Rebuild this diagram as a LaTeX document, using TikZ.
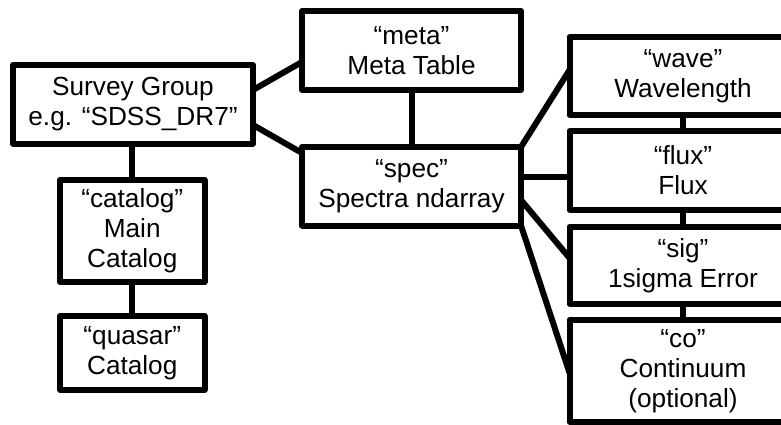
\documentclass[tikz,border=0pt]{standalone}
\usepackage{fontspec}
\setmainfont{Liberation Sans}
\usetikzlibrary{calc}
\begin{document}
\begin{tikzpicture}[x=1pt,y=-1pt,
  box/.style={draw=black,line width=6pt,fill=white,align=center,inner sep=0pt,outer sep=0pt,line join=round,font=\fontsize{26.2}{30}\selectfont,text=black},
  link/.style={line width=6pt,draw=black}]
\useasboundingbox (0,0) rectangle (781,424);
\fill[white] (0,0) rectangle (781,424);
\node[box,minimum width=240pt,minimum height=78.5pt] (sg) at (133,104.25) {Survey Group\\e.g. “SDSS\_DR7”};
\node[box,minimum width=219pt,minimum height=79pt] (meta) at (411.5,50.5) {“meta”\\Meta Table};
\node[box,minimum width=219pt,minimum height=78.5pt] (spec) at (411.5,186.25) {“spec”\\Spectra ndarray};
\node[box,minimum width=144.5pt,minimum height=102pt] (cat) at (132.25,231) {“catalog”\\Main\\Catalog};
\node[box,minimum width=144.5pt,minimum height=73.7pt] (qua) at (132.25,352.85) {“quasar”\\Catalog};
\node[box,minimum width=227pt,minimum height=78.5pt] (wave) at (683,76) {“wave”\\Wavelength};
\node[box,minimum width=227pt,minimum height=79.2pt] (flux) at (683,170.4) {“flux”\\Flux};
\node[box,minimum width=227pt,minimum height=77.5pt] (sig) at (683,265.25) {“sig”\\1sigma Error};
\node[box,minimum width=227pt,minimum height=102.5pt] (co) at (683,370.75) {“co”\\Continuum\\(optional)};
\draw[link] ($(sg.north east)!0.318!(sg.south east)$) -- ($(meta.north west)!0.645!(meta.south west)$);
\draw[link] ($(sg.north east)!0.764!(sg.south east)$) -- ($(spec.north west)!0.076!(spec.south west)$);
\draw[link] (cat.north) -- (cat.north |- sg.south);
\draw[link] (cat.south) -- (qua.north);
\draw[link] (meta.south) -- (spec.north);
\draw[link] (spec.north east) -- ($(wave.north west)!0.424!(wave.south west)$);
\coordinate (fx) at ($(spec.north east)!0.378!(spec.south east)$);
\draw[link] (fx) -- (fx -| flux.west);
\draw[link] ($(spec.north east)!0.675!(spec.south east)$) -- ($(sig.north west)!0.406!(sig.south west)$);
\draw[link] (spec.south east) -- ($(co.north west)!0.52!(co.south west)$);
\draw[link] (wave.south) -- (flux.north);
\draw[link] (flux.south) -- (sig.north);
\draw[link] (sig.south) -- (co.north);
\end{tikzpicture}
\end{document}
